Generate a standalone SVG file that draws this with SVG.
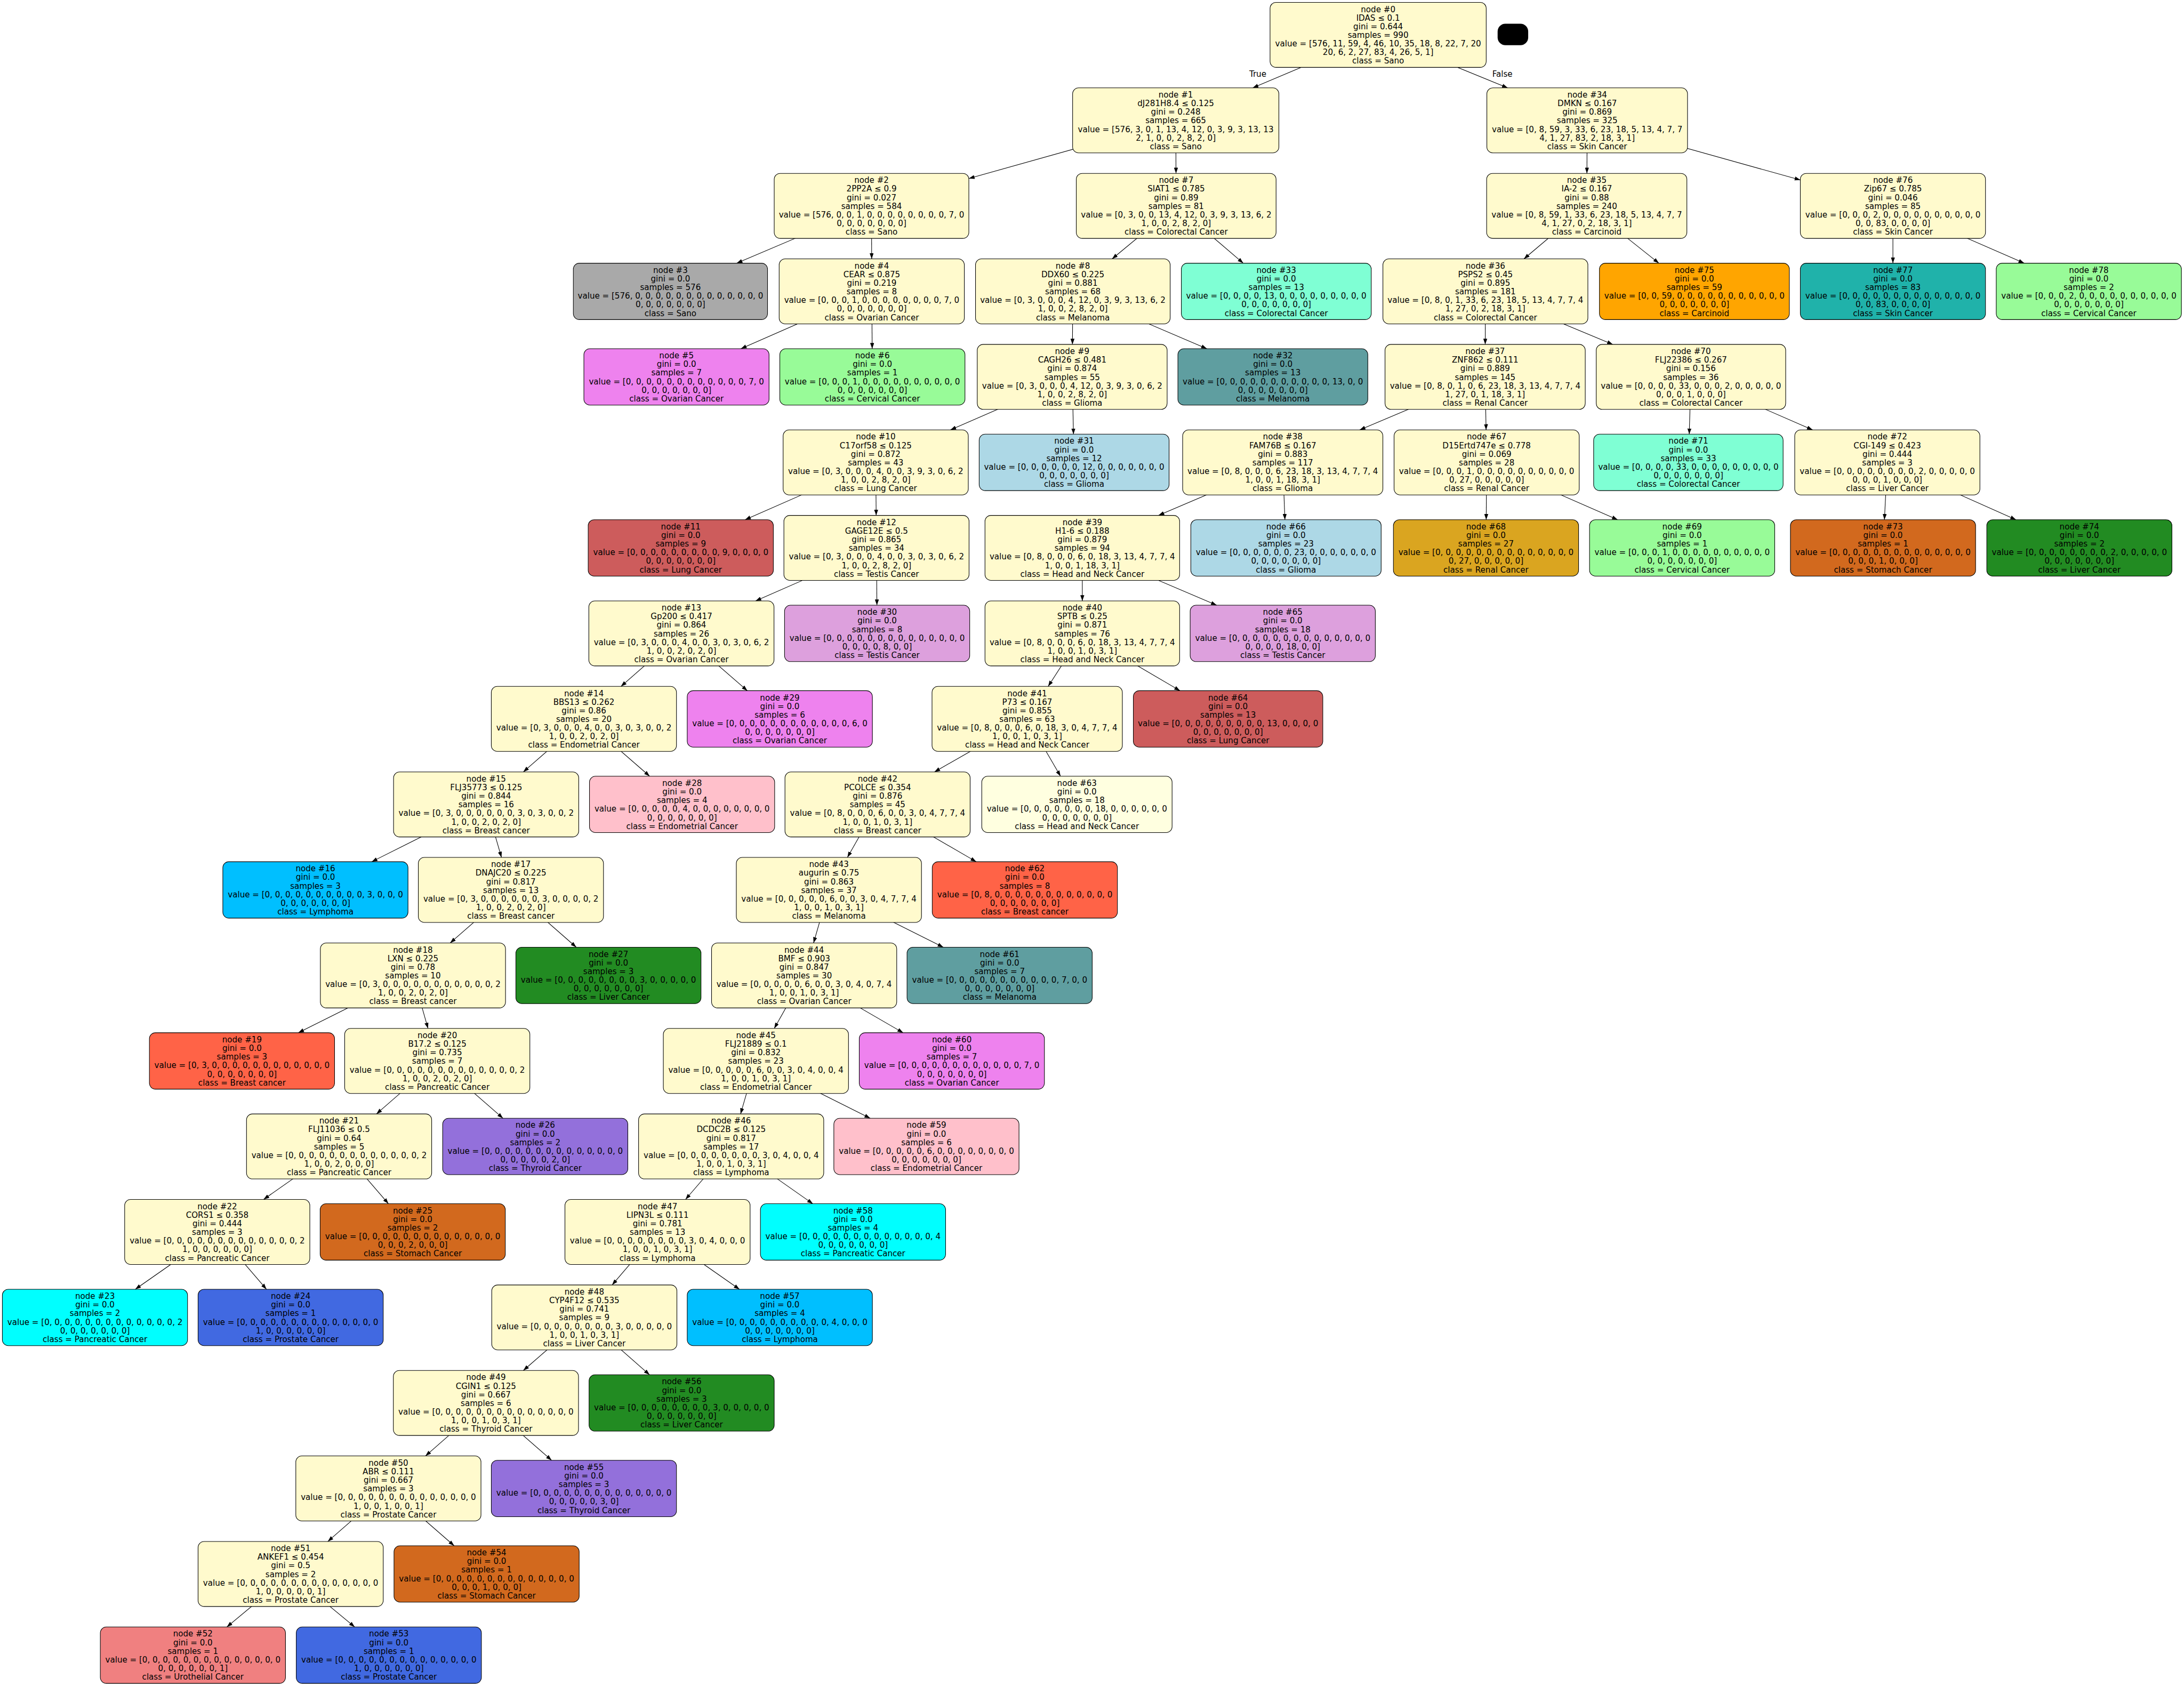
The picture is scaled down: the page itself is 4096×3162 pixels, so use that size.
<svg xmlns="http://www.w3.org/2000/svg" width="4096" height="3162" viewBox="0 0 4096 3162">
<defs>
<style>
.t{font-family:"DejaVu Sans","Liberation Sans",sans-serif;font-size:18.7px;text-anchor:middle;fill:#000}
.b{stroke:#000;stroke-width:1.33}
.e{stroke:#000;stroke-width:1.33;fill:none;marker-end:url(#arr)}
.i{fill:#fffacd}.sano{fill:#a9a9a9}.brea{fill:#ff6347}.carc{fill:#ffa500}.cerv{fill:#98fb98}.colo{fill:#7fffd4}.endo{fill:#ffc0cb}.glio{fill:#add8e6}.head{fill:#ffffe0}.live{fill:#228b22}.lung{fill:#cd5c5c}.lymp{fill:#00bfff}.mela{fill:#5f9ea0}.ovar{fill:#ee82ee}.panc{fill:#00ffff}.pros{fill:#4169e1}.rena{fill:#daa520}.skin{fill:#20b2aa}.stom{fill:#d2691e}.test{fill:#dda0dd}.thyr{fill:#9370db}.urot{fill:#f08080}
</style>
<marker id="arr" markerUnits="userSpaceOnUse" viewBox="0 0 10 7" refX="10" refY="3.5" markerWidth="13.3" markerHeight="9.3" orient="auto"><path d="M0,0 L10,3.5 L0,7 z" fill="#000"/></marker>
</defs>
<rect width="4096" height="3162" fill="#fff"/>
<g transform="scale(0.80757,0.80746)">
<g id="connectors">
<path class="e" d="M3200.5,81 L2909.2,204.1"/>
<path class="e" d="M3200.5,81 L3501.4,204.1"/>
<path class="e" d="M2730.5,279.6 L2250,414.7"/>
<path class="e" d="M2730.5,279.6 L2731.1,402.7"/>
<path class="e" d="M3686,279.6 L3685.4,402.7"/>
<path class="e" d="M3686,279.6 L4181,418.1"/>
<path class="e" d="M2024,478.2 L1711,611.3"/>
<path class="e" d="M2024,478.2 L2024.3,601.3"/>
<path class="e" d="M2731.5,478.2 L2582.7,601.3"/>
<path class="e" d="M2731.5,478.2 L2887.3,611.3"/>
<path class="e" d="M3685,478.2 L3539.1,601.3"/>
<path class="e" d="M3685,478.2 L3852.5,611.3"/>
<path class="e" d="M4396,478.2 L4396,611.3"/>
<path class="e" d="M4396,478.2 L4700.9,611.3"/>
<path class="e" d="M2024.5,676.8 L1720.6,809.9"/>
<path class="e" d="M2024.5,676.8 L2025.5,809.9"/>
<path class="e" d="M2491.5,676.8 L2490.6,799.9"/>
<path class="e" d="M2491.5,676.8 L2802.8,809.9"/>
<path class="e" d="M3449.6,676.8 L3449.2,799.9"/>
<path class="e" d="M3449.6,676.8 L3745.5,799.9"/>
<path class="e" d="M2490,875.4 L2207.2,998.5"/>
<path class="e" d="M2490,875.4 L2493,1008.5"/>
<path class="e" d="M3449,875.4 L3157.7,998.5"/>
<path class="e" d="M3449,875.4 L3451.2,998.5"/>
<path class="e" d="M3927,875.4 L3923,1008.5"/>
<path class="e" d="M3927,875.4 L4209.6,998.5"/>
<path class="e" d="M2033.7,1074 L1730.3,1207.1"/>
<path class="e" d="M2033.7,1074 L2034.8,1197.1"/>
<path class="e" d="M2979,1074 L2690.5,1197.1"/>
<path class="e" d="M2979,1074 L2984,1207.1"/>
<path class="e" d="M3452.5,1074 L3451.5,1207.1"/>
<path class="e" d="M3452.5,1074 L3756.8,1207.1"/>
<path class="e" d="M4383,1074 L4376.3,1207.1"/>
<path class="e" d="M4383,1074 L4681.9,1207.1"/>
<path class="e" d="M2035.5,1272.6 L1754.7,1395.7"/>
<path class="e" d="M2035.5,1272.6 L2036.5,1405.7"/>
<path class="e" d="M2513.5,1272.6 L2513.5,1395.7"/>
<path class="e" d="M2513.5,1272.6 L2825.5,1405.7"/>
<path class="e" d="M1582.5,1471.2 L1442.1,1594.3"/>
<path class="e" d="M1582.5,1471.2 L1735.6,1604.3"/>
<path class="e" d="M2513.5,1471.2 L2434.2,1594.3"/>
<path class="e" d="M2513.5,1471.2 L2740.4,1604.3"/>
<path class="e" d="M1356,1669.8 L1215.3,1792.9"/>
<path class="e" d="M1356,1669.8 L1508.8,1802.9"/>
<path class="e" d="M2385.5,1669.8 L2170.1,1792.9"/>
<path class="e" d="M2385.5,1669.8 L2462.9,1802.9"/>
<path class="e" d="M1129,1868.4 L863.3,2001.5"/>
<path class="e" d="M1129,1868.4 L1164.6,1991.5"/>
<path class="e" d="M2038,1868.4 L1968,1991.5"/>
<path class="e" d="M2038,1868.4 L2267.2,2001.5"/>
<path class="e" d="M1186.5,2067 L1045.5,2190.1"/>
<path class="e" d="M1186.5,2067 L1338.3,2200.1"/>
<path class="e" d="M1925,2067 L1889.4,2190.1"/>
<path class="e" d="M1925,2067 L2190.7,2200.1"/>
<path class="e" d="M959,2265.6 L692.9,2398.7"/>
<path class="e" d="M959,2265.6 L994,2388.7"/>
<path class="e" d="M1867.5,2265.6 L1798.1,2388.7"/>
<path class="e" d="M1867.5,2265.6 L2097.4,2398.7"/>
<path class="e" d="M1015.5,2464.2 L874.2,2587.3"/>
<path class="e" d="M1015.5,2464.2 L1168,2597.3"/>
<path class="e" d="M1755.5,2464.2 L1719.9,2587.3"/>
<path class="e" d="M1755.5,2464.2 L2020.9,2597.3"/>
<path class="e" d="M787.5,2662.8 L612.1,2785.9"/>
<path class="e" d="M787.5,2662.8 L902.1,2795.9"/>
<path class="e" d="M1698,2662.8 L1592,2785.9"/>
<path class="e" d="M1698,2662.8 L1887.7,2795.9"/>
<path class="e" d="M504.5,2861.4 L314.2,2994.5"/>
<path class="e" d="M504.5,2861.4 L618.8,2994.5"/>
<path class="e" d="M1527,2861.4 L1421.6,2984.5"/>
<path class="e" d="M1527,2861.4 L1717.3,2994.5"/>
<path class="e" d="M1357,3060 L1215.4,3183.1"/>
<path class="e" d="M1357,3060 L1508.5,3193.1"/>
<path class="e" d="M1128.5,3258.6 L988.1,3381.7"/>
<path class="e" d="M1128.5,3258.6 L1281,3391.7"/>
<path class="e" d="M902,3457.2 L761.3,3580.3"/>
<path class="e" d="M902,3457.2 L1054.8,3590.3"/>
<path class="e" d="M675,3655.8 L526.8,3778.9"/>
<path class="e" d="M675,3655.8 L823.8,3778.9"/>
<text class="t" x="2921" y="178.5">True</text>
<text class="t" x="3489" y="178.5">False</text>
</g>
<g id="blob"><rect x="3478" y="55" width="71" height="50" rx="18" fill="#000"/></g>
<g id="node-0" transform="translate(3200.5,81)"><rect class="b i" x="-251" y="-75.5" width="502" height="151" rx="14"/><text class="t" y="-53"><tspan x="0">node #0</tspan><tspan x="0" dy="20">IDAS ≤ 0.1</tspan><tspan x="0" dy="20">gini = 0.644</tspan><tspan x="0" dy="20">samples = 990</tspan><tspan x="0" dy="20">value = [576, 11, 59, 4, 46, 10, 35, 18, 8, 22, 7, 20</tspan><tspan x="0" dy="20">20, 6, 2, 27, 83, 4, 26, 5, 1]</tspan><tspan x="0" dy="20">class = Sano</tspan></text></g>
<g id="node-1" transform="translate(2730.5,279.6)"><rect class="b i" x="-239.5" y="-75.5" width="479" height="151" rx="14"/><text class="t" y="-53"><tspan x="0">node #1</tspan><tspan x="0" dy="20">dJ281H8.4 ≤ 0.125</tspan><tspan x="0" dy="20">gini = 0.248</tspan><tspan x="0" dy="20">samples = 665</tspan><tspan x="0" dy="20">value = [576, 3, 0, 1, 13, 4, 12, 0, 3, 9, 3, 13, 13</tspan><tspan x="0" dy="20">2, 1, 0, 0, 2, 8, 2, 0]</tspan><tspan x="0" dy="20">class = Sano</tspan></text></g>
<g id="node-2" transform="translate(2024,478.2)"><rect class="b i" x="-226" y="-75.5" width="452" height="151" rx="14"/><text class="t" y="-53"><tspan x="0">node #2</tspan><tspan x="0" dy="20">2PP2A ≤ 0.9</tspan><tspan x="0" dy="20">gini = 0.027</tspan><tspan x="0" dy="20">samples = 584</tspan><tspan x="0" dy="20">value = [576, 0, 0, 1, 0, 0, 0, 0, 0, 0, 0, 0, 7, 0</tspan><tspan x="0" dy="20">0, 0, 0, 0, 0, 0, 0]</tspan><tspan x="0" dy="20">class = Sano</tspan></text></g>
<g id="node-3" transform="translate(1557,676.8)"><rect class="b sano" x="-225.5" y="-65.5" width="451" height="131" rx="14"/><text class="t" y="-43"><tspan x="0">node #3</tspan><tspan x="0" dy="20">gini = 0.0</tspan><tspan x="0" dy="20">samples = 576</tspan><tspan x="0" dy="20">value = [576, 0, 0, 0, 0, 0, 0, 0, 0, 0, 0, 0, 0, 0</tspan><tspan x="0" dy="20">0, 0, 0, 0, 0, 0, 0]</tspan><tspan x="0" dy="20">class = Sano</tspan></text></g>
<g id="node-4" transform="translate(2024.5,676.8)"><rect class="b i" x="-215" y="-75.5" width="430" height="151" rx="14"/><text class="t" y="-53"><tspan x="0">node #4</tspan><tspan x="0" dy="20">CEAR ≤ 0.875</tspan><tspan x="0" dy="20">gini = 0.219</tspan><tspan x="0" dy="20">samples = 8</tspan><tspan x="0" dy="20">value = [0, 0, 0, 1, 0, 0, 0, 0, 0, 0, 0, 0, 7, 0</tspan><tspan x="0" dy="20">0, 0, 0, 0, 0, 0, 0]</tspan><tspan x="0" dy="20">class = Ovarian Cancer</tspan></text></g>
<g id="node-5" transform="translate(1571,875.4)"><rect class="b ovar" x="-215" y="-65.5" width="430" height="131" rx="14"/><text class="t" y="-43"><tspan x="0">node #5</tspan><tspan x="0" dy="20">gini = 0.0</tspan><tspan x="0" dy="20">samples = 7</tspan><tspan x="0" dy="20">value = [0, 0, 0, 0, 0, 0, 0, 0, 0, 0, 0, 0, 7, 0</tspan><tspan x="0" dy="20">0, 0, 0, 0, 0, 0, 0]</tspan><tspan x="0" dy="20">class = Ovarian Cancer</tspan></text></g>
<g id="node-6" transform="translate(2026,875.4)"><rect class="b cerv" x="-215" y="-65.5" width="430" height="131" rx="14"/><text class="t" y="-43"><tspan x="0">node #6</tspan><tspan x="0" dy="20">gini = 0.0</tspan><tspan x="0" dy="20">samples = 1</tspan><tspan x="0" dy="20">value = [0, 0, 0, 1, 0, 0, 0, 0, 0, 0, 0, 0, 0, 0</tspan><tspan x="0" dy="20">0, 0, 0, 0, 0, 0, 0]</tspan><tspan x="0" dy="20">class = Cervical Cancer</tspan></text></g>
<g id="node-7" transform="translate(2731.5,478.2)"><rect class="b i" x="-232" y="-75.5" width="464" height="151" rx="14"/><text class="t" y="-53"><tspan x="0">node #7</tspan><tspan x="0" dy="20">SIAT1 ≤ 0.785</tspan><tspan x="0" dy="20">gini = 0.89</tspan><tspan x="0" dy="20">samples = 81</tspan><tspan x="0" dy="20">value = [0, 3, 0, 0, 13, 4, 12, 0, 3, 9, 3, 13, 6, 2</tspan><tspan x="0" dy="20">1, 0, 0, 2, 8, 2, 0]</tspan><tspan x="0" dy="20">class = Colorectal Cancer</tspan></text></g>
<g id="node-8" transform="translate(2491.5,676.8)"><rect class="b i" x="-226" y="-75.5" width="452" height="151" rx="14"/><text class="t" y="-53"><tspan x="0">node #8</tspan><tspan x="0" dy="20">DDX60 ≤ 0.225</tspan><tspan x="0" dy="20">gini = 0.881</tspan><tspan x="0" dy="20">samples = 68</tspan><tspan x="0" dy="20">value = [0, 3, 0, 0, 0, 4, 12, 0, 3, 9, 3, 13, 6, 2</tspan><tspan x="0" dy="20">1, 0, 0, 2, 8, 2, 0]</tspan><tspan x="0" dy="20">class = Melanoma</tspan></text></g>
<g id="node-9" transform="translate(2490,875.4)"><rect class="b i" x="-220.5" y="-75.5" width="441" height="151" rx="14"/><text class="t" y="-53"><tspan x="0">node #9</tspan><tspan x="0" dy="20">CAGH26 ≤ 0.481</tspan><tspan x="0" dy="20">gini = 0.874</tspan><tspan x="0" dy="20">samples = 55</tspan><tspan x="0" dy="20">value = [0, 3, 0, 0, 0, 4, 12, 0, 3, 9, 3, 0, 6, 2</tspan><tspan x="0" dy="20">1, 0, 0, 2, 8, 2, 0]</tspan><tspan x="0" dy="20">class = Glioma</tspan></text></g>
<g id="node-10" transform="translate(2033.7,1074)"><rect class="b i" x="-215" y="-75.5" width="430" height="151" rx="14"/><text class="t" y="-53"><tspan x="0">node #10</tspan><tspan x="0" dy="20">C17orf58 ≤ 0.125</tspan><tspan x="0" dy="20">gini = 0.872</tspan><tspan x="0" dy="20">samples = 43</tspan><tspan x="0" dy="20">value = [0, 3, 0, 0, 0, 4, 0, 0, 3, 9, 3, 0, 6, 2</tspan><tspan x="0" dy="20">1, 0, 0, 2, 8, 2, 0]</tspan><tspan x="0" dy="20">class = Lung Cancer</tspan></text></g>
<g id="node-11" transform="translate(1581,1272.6)"><rect class="b lung" x="-215" y="-65.5" width="430" height="131" rx="14"/><text class="t" y="-43"><tspan x="0">node #11</tspan><tspan x="0" dy="20">gini = 0.0</tspan><tspan x="0" dy="20">samples = 9</tspan><tspan x="0" dy="20">value = [0, 0, 0, 0, 0, 0, 0, 0, 0, 9, 0, 0, 0, 0</tspan><tspan x="0" dy="20">0, 0, 0, 0, 0, 0, 0]</tspan><tspan x="0" dy="20">class = Lung Cancer</tspan></text></g>
<g id="node-12" transform="translate(2035.5,1272.6)"><rect class="b i" x="-215" y="-75.5" width="430" height="151" rx="14"/><text class="t" y="-53"><tspan x="0">node #12</tspan><tspan x="0" dy="20">GAGE12E ≤ 0.5</tspan><tspan x="0" dy="20">gini = 0.865</tspan><tspan x="0" dy="20">samples = 34</tspan><tspan x="0" dy="20">value = [0, 3, 0, 0, 0, 4, 0, 0, 3, 0, 3, 0, 6, 2</tspan><tspan x="0" dy="20">1, 0, 0, 2, 8, 2, 0]</tspan><tspan x="0" dy="20">class = Testis Cancer</tspan></text></g>
<g id="node-13" transform="translate(1582.5,1471.2)"><rect class="b i" x="-215" y="-75.5" width="430" height="151" rx="14"/><text class="t" y="-53"><tspan x="0">node #13</tspan><tspan x="0" dy="20">Gp200 ≤ 0.417</tspan><tspan x="0" dy="20">gini = 0.864</tspan><tspan x="0" dy="20">samples = 26</tspan><tspan x="0" dy="20">value = [0, 3, 0, 0, 0, 4, 0, 0, 3, 0, 3, 0, 6, 2</tspan><tspan x="0" dy="20">1, 0, 0, 2, 0, 2, 0]</tspan><tspan x="0" dy="20">class = Ovarian Cancer</tspan></text></g>
<g id="node-14" transform="translate(1356,1669.8)"><rect class="b i" x="-215" y="-75.5" width="430" height="151" rx="14"/><text class="t" y="-53"><tspan x="0">node #14</tspan><tspan x="0" dy="20">BBS13 ≤ 0.262</tspan><tspan x="0" dy="20">gini = 0.86</tspan><tspan x="0" dy="20">samples = 20</tspan><tspan x="0" dy="20">value = [0, 3, 0, 0, 0, 4, 0, 0, 3, 0, 3, 0, 0, 2</tspan><tspan x="0" dy="20">1, 0, 0, 2, 0, 2, 0]</tspan><tspan x="0" dy="20">class = Endometrial Cancer</tspan></text></g>
<g id="node-15" transform="translate(1129,1868.4)"><rect class="b i" x="-215" y="-75.5" width="430" height="151" rx="14"/><text class="t" y="-53"><tspan x="0">node #15</tspan><tspan x="0" dy="20">FLJ35773 ≤ 0.125</tspan><tspan x="0" dy="20">gini = 0.844</tspan><tspan x="0" dy="20">samples = 16</tspan><tspan x="0" dy="20">value = [0, 3, 0, 0, 0, 0, 0, 0, 3, 0, 3, 0, 0, 2</tspan><tspan x="0" dy="20">1, 0, 0, 2, 0, 2, 0]</tspan><tspan x="0" dy="20">class = Breast cancer</tspan></text></g>
<g id="node-16" transform="translate(732.5,2067)"><rect class="b lymp" x="-215" y="-65.5" width="430" height="131" rx="14"/><text class="t" y="-43"><tspan x="0">node #16</tspan><tspan x="0" dy="20">gini = 0.0</tspan><tspan x="0" dy="20">samples = 3</tspan><tspan x="0" dy="20">value = [0, 0, 0, 0, 0, 0, 0, 0, 0, 0, 3, 0, 0, 0</tspan><tspan x="0" dy="20">0, 0, 0, 0, 0, 0, 0]</tspan><tspan x="0" dy="20">class = Lymphoma</tspan></text></g>
<g id="node-17" transform="translate(1186.5,2067)"><rect class="b i" x="-215" y="-75.5" width="430" height="151" rx="14"/><text class="t" y="-53"><tspan x="0">node #17</tspan><tspan x="0" dy="20">DNAJC20 ≤ 0.225</tspan><tspan x="0" dy="20">gini = 0.817</tspan><tspan x="0" dy="20">samples = 13</tspan><tspan x="0" dy="20">value = [0, 3, 0, 0, 0, 0, 0, 0, 3, 0, 0, 0, 0, 2</tspan><tspan x="0" dy="20">1, 0, 0, 2, 0, 2, 0]</tspan><tspan x="0" dy="20">class = Breast cancer</tspan></text></g>
<g id="node-18" transform="translate(959,2265.6)"><rect class="b i" x="-215" y="-75.5" width="430" height="151" rx="14"/><text class="t" y="-53"><tspan x="0">node #18</tspan><tspan x="0" dy="20">LXN ≤ 0.225</tspan><tspan x="0" dy="20">gini = 0.78</tspan><tspan x="0" dy="20">samples = 10</tspan><tspan x="0" dy="20">value = [0, 3, 0, 0, 0, 0, 0, 0, 0, 0, 0, 0, 0, 2</tspan><tspan x="0" dy="20">1, 0, 0, 2, 0, 2, 0]</tspan><tspan x="0" dy="20">class = Breast cancer</tspan></text></g>
<g id="node-19" transform="translate(562,2464.2)"><rect class="b brea" x="-215" y="-65.5" width="430" height="131" rx="14"/><text class="t" y="-43"><tspan x="0">node #19</tspan><tspan x="0" dy="20">gini = 0.0</tspan><tspan x="0" dy="20">samples = 3</tspan><tspan x="0" dy="20">value = [0, 3, 0, 0, 0, 0, 0, 0, 0, 0, 0, 0, 0, 0</tspan><tspan x="0" dy="20">0, 0, 0, 0, 0, 0, 0]</tspan><tspan x="0" dy="20">class = Breast cancer</tspan></text></g>
<g id="node-20" transform="translate(1015.5,2464.2)"><rect class="b i" x="-215" y="-75.5" width="430" height="151" rx="14"/><text class="t" y="-53"><tspan x="0">node #20</tspan><tspan x="0" dy="20">B17.2 ≤ 0.125</tspan><tspan x="0" dy="20">gini = 0.735</tspan><tspan x="0" dy="20">samples = 7</tspan><tspan x="0" dy="20">value = [0, 0, 0, 0, 0, 0, 0, 0, 0, 0, 0, 0, 0, 2</tspan><tspan x="0" dy="20">1, 0, 0, 2, 0, 2, 0]</tspan><tspan x="0" dy="20">class = Pancreatic Cancer</tspan></text></g>
<g id="node-21" transform="translate(787.5,2662.8)"><rect class="b i" x="-215" y="-75.5" width="430" height="151" rx="14"/><text class="t" y="-53"><tspan x="0">node #21</tspan><tspan x="0" dy="20">FLJ11036 ≤ 0.5</tspan><tspan x="0" dy="20">gini = 0.64</tspan><tspan x="0" dy="20">samples = 5</tspan><tspan x="0" dy="20">value = [0, 0, 0, 0, 0, 0, 0, 0, 0, 0, 0, 0, 0, 2</tspan><tspan x="0" dy="20">1, 0, 0, 2, 0, 0, 0]</tspan><tspan x="0" dy="20">class = Pancreatic Cancer</tspan></text></g>
<g id="node-22" transform="translate(504.5,2861.4)"><rect class="b i" x="-215" y="-75.5" width="430" height="151" rx="14"/><text class="t" y="-53"><tspan x="0">node #22</tspan><tspan x="0" dy="20">CORS1 ≤ 0.358</tspan><tspan x="0" dy="20">gini = 0.444</tspan><tspan x="0" dy="20">samples = 3</tspan><tspan x="0" dy="20">value = [0, 0, 0, 0, 0, 0, 0, 0, 0, 0, 0, 0, 0, 2</tspan><tspan x="0" dy="20">1, 0, 0, 0, 0, 0, 0]</tspan><tspan x="0" dy="20">class = Pancreatic Cancer</tspan></text></g>
<g id="node-23" transform="translate(220.5,3060)"><rect class="b panc" x="-215" y="-65.5" width="430" height="131" rx="14"/><text class="t" y="-43"><tspan x="0">node #23</tspan><tspan x="0" dy="20">gini = 0.0</tspan><tspan x="0" dy="20">samples = 2</tspan><tspan x="0" dy="20">value = [0, 0, 0, 0, 0, 0, 0, 0, 0, 0, 0, 0, 0, 2</tspan><tspan x="0" dy="20">0, 0, 0, 0, 0, 0, 0]</tspan><tspan x="0" dy="20">class = Pancreatic Cancer</tspan></text></g>
<g id="node-24" transform="translate(675,3060)"><rect class="b pros" x="-215" y="-65.5" width="430" height="131" rx="14"/><text class="t" y="-43"><tspan x="0">node #24</tspan><tspan x="0" dy="20">gini = 0.0</tspan><tspan x="0" dy="20">samples = 1</tspan><tspan x="0" dy="20">value = [0, 0, 0, 0, 0, 0, 0, 0, 0, 0, 0, 0, 0, 0</tspan><tspan x="0" dy="20">1, 0, 0, 0, 0, 0, 0]</tspan><tspan x="0" dy="20">class = Prostate Cancer</tspan></text></g>
<g id="node-25" transform="translate(958.5,2861.4)"><rect class="b stom" x="-215" y="-65.5" width="430" height="131" rx="14"/><text class="t" y="-43"><tspan x="0">node #25</tspan><tspan x="0" dy="20">gini = 0.0</tspan><tspan x="0" dy="20">samples = 2</tspan><tspan x="0" dy="20">value = [0, 0, 0, 0, 0, 0, 0, 0, 0, 0, 0, 0, 0, 0</tspan><tspan x="0" dy="20">0, 0, 0, 2, 0, 0, 0]</tspan><tspan x="0" dy="20">class = Stomach Cancer</tspan></text></g>
<g id="node-26" transform="translate(1243,2662.8)"><rect class="b thyr" x="-215" y="-65.5" width="430" height="131" rx="14"/><text class="t" y="-43"><tspan x="0">node #26</tspan><tspan x="0" dy="20">gini = 0.0</tspan><tspan x="0" dy="20">samples = 2</tspan><tspan x="0" dy="20">value = [0, 0, 0, 0, 0, 0, 0, 0, 0, 0, 0, 0, 0, 0</tspan><tspan x="0" dy="20">0, 0, 0, 0, 0, 2, 0]</tspan><tspan x="0" dy="20">class = Thyroid Cancer</tspan></text></g>
<g id="node-27" transform="translate(1413,2265.6)"><rect class="b live" x="-215" y="-65.5" width="430" height="131" rx="14"/><text class="t" y="-43"><tspan x="0">node #27</tspan><tspan x="0" dy="20">gini = 0.0</tspan><tspan x="0" dy="20">samples = 3</tspan><tspan x="0" dy="20">value = [0, 0, 0, 0, 0, 0, 0, 0, 3, 0, 0, 0, 0, 0</tspan><tspan x="0" dy="20">0, 0, 0, 0, 0, 0, 0]</tspan><tspan x="0" dy="20">class = Liver Cancer</tspan></text></g>
<g id="node-28" transform="translate(1584,1868.4)"><rect class="b endo" x="-215" y="-65.5" width="430" height="131" rx="14"/><text class="t" y="-43"><tspan x="0">node #28</tspan><tspan x="0" dy="20">gini = 0.0</tspan><tspan x="0" dy="20">samples = 4</tspan><tspan x="0" dy="20">value = [0, 0, 0, 0, 0, 4, 0, 0, 0, 0, 0, 0, 0, 0</tspan><tspan x="0" dy="20">0, 0, 0, 0, 0, 0, 0]</tspan><tspan x="0" dy="20">class = Endometrial Cancer</tspan></text></g>
<g id="node-29" transform="translate(1811,1669.8)"><rect class="b ovar" x="-215" y="-65.5" width="430" height="131" rx="14"/><text class="t" y="-43"><tspan x="0">node #29</tspan><tspan x="0" dy="20">gini = 0.0</tspan><tspan x="0" dy="20">samples = 6</tspan><tspan x="0" dy="20">value = [0, 0, 0, 0, 0, 0, 0, 0, 0, 0, 0, 0, 6, 0</tspan><tspan x="0" dy="20">0, 0, 0, 0, 0, 0, 0]</tspan><tspan x="0" dy="20">class = Ovarian Cancer</tspan></text></g>
<g id="node-30" transform="translate(2037,1471.2)"><rect class="b test" x="-215" y="-65.5" width="430" height="131" rx="14"/><text class="t" y="-43"><tspan x="0">node #30</tspan><tspan x="0" dy="20">gini = 0.0</tspan><tspan x="0" dy="20">samples = 8</tspan><tspan x="0" dy="20">value = [0, 0, 0, 0, 0, 0, 0, 0, 0, 0, 0, 0, 0, 0</tspan><tspan x="0" dy="20">0, 0, 0, 0, 8, 0, 0]</tspan><tspan x="0" dy="20">class = Testis Cancer</tspan></text></g>
<g id="node-31" transform="translate(2494.5,1074)"><rect class="b glio" x="-220.5" y="-65.5" width="441" height="131" rx="14"/><text class="t" y="-43"><tspan x="0">node #31</tspan><tspan x="0" dy="20">gini = 0.0</tspan><tspan x="0" dy="20">samples = 12</tspan><tspan x="0" dy="20">value = [0, 0, 0, 0, 0, 0, 12, 0, 0, 0, 0, 0, 0, 0</tspan><tspan x="0" dy="20">0, 0, 0, 0, 0, 0, 0]</tspan><tspan x="0" dy="20">class = Glioma</tspan></text></g>
<g id="node-32" transform="translate(2956,875.4)"><rect class="b mela" x="-220.5" y="-65.5" width="441" height="131" rx="14"/><text class="t" y="-43"><tspan x="0">node #32</tspan><tspan x="0" dy="20">gini = 0.0</tspan><tspan x="0" dy="20">samples = 13</tspan><tspan x="0" dy="20">value = [0, 0, 0, 0, 0, 0, 0, 0, 0, 0, 0, 13, 0, 0</tspan><tspan x="0" dy="20">0, 0, 0, 0, 0, 0, 0]</tspan><tspan x="0" dy="20">class = Melanoma</tspan></text></g>
<g id="node-33" transform="translate(2964,676.8)"><rect class="b colo" x="-220.5" y="-65.5" width="441" height="131" rx="14"/><text class="t" y="-43"><tspan x="0">node #33</tspan><tspan x="0" dy="20">gini = 0.0</tspan><tspan x="0" dy="20">samples = 13</tspan><tspan x="0" dy="20">value = [0, 0, 0, 0, 13, 0, 0, 0, 0, 0, 0, 0, 0, 0</tspan><tspan x="0" dy="20">0, 0, 0, 0, 0, 0, 0]</tspan><tspan x="0" dy="20">class = Colorectal Cancer</tspan></text></g>
<g id="node-34" transform="translate(3686,279.6)"><rect class="b i" x="-233" y="-75.5" width="466" height="151" rx="14"/><text class="t" y="-53"><tspan x="0">node #34</tspan><tspan x="0" dy="20">DMKN ≤ 0.167</tspan><tspan x="0" dy="20">gini = 0.869</tspan><tspan x="0" dy="20">samples = 325</tspan><tspan x="0" dy="20">value = [0, 8, 59, 3, 33, 6, 23, 18, 5, 13, 4, 7, 7</tspan><tspan x="0" dy="20">4, 1, 27, 83, 2, 18, 3, 1]</tspan><tspan x="0" dy="20">class = Skin Cancer</tspan></text></g>
<g id="node-35" transform="translate(3685,478.2)"><rect class="b i" x="-232.5" y="-75.5" width="465" height="151" rx="14"/><text class="t" y="-53"><tspan x="0">node #35</tspan><tspan x="0" dy="20">IA-2 ≤ 0.167</tspan><tspan x="0" dy="20">gini = 0.88</tspan><tspan x="0" dy="20">samples = 240</tspan><tspan x="0" dy="20">value = [0, 8, 59, 1, 33, 6, 23, 18, 5, 13, 4, 7, 7</tspan><tspan x="0" dy="20">4, 1, 27, 0, 2, 18, 3, 1]</tspan><tspan x="0" dy="20">class = Carcinoid</tspan></text></g>
<g id="node-36" transform="translate(3449.6,676.8)"><rect class="b i" x="-238" y="-75.5" width="476" height="151" rx="14"/><text class="t" y="-53"><tspan x="0">node #36</tspan><tspan x="0" dy="20">PSPS2 ≤ 0.45</tspan><tspan x="0" dy="20">gini = 0.895</tspan><tspan x="0" dy="20">samples = 181</tspan><tspan x="0" dy="20">value = [0, 8, 0, 1, 33, 6, 23, 18, 5, 13, 4, 7, 7, 4</tspan><tspan x="0" dy="20">1, 27, 0, 2, 18, 3, 1]</tspan><tspan x="0" dy="20">class = Colorectal Cancer</tspan></text></g>
<g id="node-37" transform="translate(3449,875.4)"><rect class="b i" x="-232.5" y="-75.5" width="465" height="151" rx="14"/><text class="t" y="-53"><tspan x="0">node #37</tspan><tspan x="0" dy="20">ZNF862 ≤ 0.111</tspan><tspan x="0" dy="20">gini = 0.889</tspan><tspan x="0" dy="20">samples = 145</tspan><tspan x="0" dy="20">value = [0, 8, 0, 1, 0, 6, 23, 18, 3, 13, 4, 7, 7, 4</tspan><tspan x="0" dy="20">1, 27, 0, 1, 18, 3, 1]</tspan><tspan x="0" dy="20">class = Renal Cancer</tspan></text></g>
<g id="node-38" transform="translate(2979,1074)"><rect class="b i" x="-232.5" y="-75.5" width="465" height="151" rx="14"/><text class="t" y="-53"><tspan x="0">node #38</tspan><tspan x="0" dy="20">FAM76B ≤ 0.167</tspan><tspan x="0" dy="20">gini = 0.883</tspan><tspan x="0" dy="20">samples = 117</tspan><tspan x="0" dy="20">value = [0, 8, 0, 0, 0, 6, 23, 18, 3, 13, 4, 7, 7, 4</tspan><tspan x="0" dy="20">1, 0, 0, 1, 18, 3, 1]</tspan><tspan x="0" dy="20">class = Glioma</tspan></text></g>
<g id="node-39" transform="translate(2513.5,1272.6)"><rect class="b i" x="-226" y="-75.5" width="452" height="151" rx="14"/><text class="t" y="-53"><tspan x="0">node #39</tspan><tspan x="0" dy="20">H1-6 ≤ 0.188</tspan><tspan x="0" dy="20">gini = 0.879</tspan><tspan x="0" dy="20">samples = 94</tspan><tspan x="0" dy="20">value = [0, 8, 0, 0, 0, 6, 0, 18, 3, 13, 4, 7, 7, 4</tspan><tspan x="0" dy="20">1, 0, 0, 1, 18, 3, 1]</tspan><tspan x="0" dy="20">class = Head and Neck Cancer</tspan></text></g>
<g id="node-40" transform="translate(2513.5,1471.2)"><rect class="b i" x="-226" y="-75.5" width="452" height="151" rx="14"/><text class="t" y="-53"><tspan x="0">node #40</tspan><tspan x="0" dy="20">SPTB ≤ 0.25</tspan><tspan x="0" dy="20">gini = 0.871</tspan><tspan x="0" dy="20">samples = 76</tspan><tspan x="0" dy="20">value = [0, 8, 0, 0, 0, 6, 0, 18, 3, 13, 4, 7, 7, 4</tspan><tspan x="0" dy="20">1, 0, 0, 1, 0, 3, 1]</tspan><tspan x="0" dy="20">class = Head and Neck Cancer</tspan></text></g>
<g id="node-41" transform="translate(2385.5,1669.8)"><rect class="b i" x="-221" y="-75.5" width="442" height="151" rx="14"/><text class="t" y="-53"><tspan x="0">node #41</tspan><tspan x="0" dy="20">P73 ≤ 0.167</tspan><tspan x="0" dy="20">gini = 0.855</tspan><tspan x="0" dy="20">samples = 63</tspan><tspan x="0" dy="20">value = [0, 8, 0, 0, 0, 6, 0, 18, 3, 0, 4, 7, 7, 4</tspan><tspan x="0" dy="20">1, 0, 0, 1, 0, 3, 1]</tspan><tspan x="0" dy="20">class = Head and Neck Cancer</tspan></text></g>
<g id="node-42" transform="translate(2038,1868.4)"><rect class="b i" x="-215" y="-75.5" width="430" height="151" rx="14"/><text class="t" y="-53"><tspan x="0">node #42</tspan><tspan x="0" dy="20">PCOLCE ≤ 0.354</tspan><tspan x="0" dy="20">gini = 0.876</tspan><tspan x="0" dy="20">samples = 45</tspan><tspan x="0" dy="20">value = [0, 8, 0, 0, 0, 6, 0, 0, 3, 0, 4, 7, 7, 4</tspan><tspan x="0" dy="20">1, 0, 0, 1, 0, 3, 1]</tspan><tspan x="0" dy="20">class = Breast cancer</tspan></text></g>
<g id="node-43" transform="translate(1925,2067)"><rect class="b i" x="-215" y="-75.5" width="430" height="151" rx="14"/><text class="t" y="-53"><tspan x="0">node #43</tspan><tspan x="0" dy="20">augurin ≤ 0.75</tspan><tspan x="0" dy="20">gini = 0.863</tspan><tspan x="0" dy="20">samples = 37</tspan><tspan x="0" dy="20">value = [0, 0, 0, 0, 0, 6, 0, 0, 3, 0, 4, 7, 7, 4</tspan><tspan x="0" dy="20">1, 0, 0, 1, 0, 3, 1]</tspan><tspan x="0" dy="20">class = Melanoma</tspan></text></g>
<g id="node-44" transform="translate(1867.5,2265.6)"><rect class="b i" x="-215" y="-75.5" width="430" height="151" rx="14"/><text class="t" y="-53"><tspan x="0">node #44</tspan><tspan x="0" dy="20">BMF ≤ 0.903</tspan><tspan x="0" dy="20">gini = 0.847</tspan><tspan x="0" dy="20">samples = 30</tspan><tspan x="0" dy="20">value = [0, 0, 0, 0, 0, 6, 0, 0, 3, 0, 4, 0, 7, 4</tspan><tspan x="0" dy="20">1, 0, 0, 1, 0, 3, 1]</tspan><tspan x="0" dy="20">class = Ovarian Cancer</tspan></text></g>
<g id="node-45" transform="translate(1755.5,2464.2)"><rect class="b i" x="-215" y="-75.5" width="430" height="151" rx="14"/><text class="t" y="-53"><tspan x="0">node #45</tspan><tspan x="0" dy="20">FLJ21889 ≤ 0.1</tspan><tspan x="0" dy="20">gini = 0.832</tspan><tspan x="0" dy="20">samples = 23</tspan><tspan x="0" dy="20">value = [0, 0, 0, 0, 0, 6, 0, 0, 3, 0, 4, 0, 0, 4</tspan><tspan x="0" dy="20">1, 0, 0, 1, 0, 3, 1]</tspan><tspan x="0" dy="20">class = Endometrial Cancer</tspan></text></g>
<g id="node-46" transform="translate(1698,2662.8)"><rect class="b i" x="-215" y="-75.5" width="430" height="151" rx="14"/><text class="t" y="-53"><tspan x="0">node #46</tspan><tspan x="0" dy="20">DCDC2B ≤ 0.125</tspan><tspan x="0" dy="20">gini = 0.817</tspan><tspan x="0" dy="20">samples = 17</tspan><tspan x="0" dy="20">value = [0, 0, 0, 0, 0, 0, 0, 0, 3, 0, 4, 0, 0, 4</tspan><tspan x="0" dy="20">1, 0, 0, 1, 0, 3, 1]</tspan><tspan x="0" dy="20">class = Lymphoma</tspan></text></g>
<g id="node-47" transform="translate(1527,2861.4)"><rect class="b i" x="-215" y="-75.5" width="430" height="151" rx="14"/><text class="t" y="-53"><tspan x="0">node #47</tspan><tspan x="0" dy="20">LIPN3L ≤ 0.111</tspan><tspan x="0" dy="20">gini = 0.781</tspan><tspan x="0" dy="20">samples = 13</tspan><tspan x="0" dy="20">value = [0, 0, 0, 0, 0, 0, 0, 0, 3, 0, 4, 0, 0, 0</tspan><tspan x="0" dy="20">1, 0, 0, 1, 0, 3, 1]</tspan><tspan x="0" dy="20">class = Lymphoma</tspan></text></g>
<g id="node-48" transform="translate(1357,3060)"><rect class="b i" x="-215" y="-75.5" width="430" height="151" rx="14"/><text class="t" y="-53"><tspan x="0">node #48</tspan><tspan x="0" dy="20">CYP4F12 ≤ 0.535</tspan><tspan x="0" dy="20">gini = 0.741</tspan><tspan x="0" dy="20">samples = 9</tspan><tspan x="0" dy="20">value = [0, 0, 0, 0, 0, 0, 0, 0, 3, 0, 0, 0, 0, 0</tspan><tspan x="0" dy="20">1, 0, 0, 1, 0, 3, 1]</tspan><tspan x="0" dy="20">class = Liver Cancer</tspan></text></g>
<g id="node-49" transform="translate(1128.5,3258.6)"><rect class="b i" x="-215" y="-75.5" width="430" height="151" rx="14"/><text class="t" y="-53"><tspan x="0">node #49</tspan><tspan x="0" dy="20">CGIN1 ≤ 0.125</tspan><tspan x="0" dy="20">gini = 0.667</tspan><tspan x="0" dy="20">samples = 6</tspan><tspan x="0" dy="20">value = [0, 0, 0, 0, 0, 0, 0, 0, 0, 0, 0, 0, 0, 0</tspan><tspan x="0" dy="20">1, 0, 0, 1, 0, 3, 1]</tspan><tspan x="0" dy="20">class = Thyroid Cancer</tspan></text></g>
<g id="node-50" transform="translate(902,3457.2)"><rect class="b i" x="-215" y="-75.5" width="430" height="151" rx="14"/><text class="t" y="-53"><tspan x="0">node #50</tspan><tspan x="0" dy="20">ABR ≤ 0.111</tspan><tspan x="0" dy="20">gini = 0.667</tspan><tspan x="0" dy="20">samples = 3</tspan><tspan x="0" dy="20">value = [0, 0, 0, 0, 0, 0, 0, 0, 0, 0, 0, 0, 0, 0</tspan><tspan x="0" dy="20">1, 0, 0, 1, 0, 0, 1]</tspan><tspan x="0" dy="20">class = Prostate Cancer</tspan></text></g>
<g id="node-51" transform="translate(675,3655.8)"><rect class="b i" x="-215" y="-75.5" width="430" height="151" rx="14"/><text class="t" y="-53"><tspan x="0">node #51</tspan><tspan x="0" dy="20">ANKEF1 ≤ 0.454</tspan><tspan x="0" dy="20">gini = 0.5</tspan><tspan x="0" dy="20">samples = 2</tspan><tspan x="0" dy="20">value = [0, 0, 0, 0, 0, 0, 0, 0, 0, 0, 0, 0, 0, 0</tspan><tspan x="0" dy="20">1, 0, 0, 0, 0, 0, 1]</tspan><tspan x="0" dy="20">class = Prostate Cancer</tspan></text></g>
<g id="node-52" transform="translate(448,3844.4)"><rect class="b urot" x="-215" y="-65.5" width="430" height="131" rx="14"/><text class="t" y="-43"><tspan x="0">node #52</tspan><tspan x="0" dy="20">gini = 0.0</tspan><tspan x="0" dy="20">samples = 1</tspan><tspan x="0" dy="20">value = [0, 0, 0, 0, 0, 0, 0, 0, 0, 0, 0, 0, 0, 0</tspan><tspan x="0" dy="20">0, 0, 0, 0, 0, 0, 1]</tspan><tspan x="0" dy="20">class = Urothelial Cancer</tspan></text></g>
<g id="node-53" transform="translate(903,3844.4)"><rect class="b pros" x="-215" y="-65.5" width="430" height="131" rx="14"/><text class="t" y="-43"><tspan x="0">node #53</tspan><tspan x="0" dy="20">gini = 0.0</tspan><tspan x="0" dy="20">samples = 1</tspan><tspan x="0" dy="20">value = [0, 0, 0, 0, 0, 0, 0, 0, 0, 0, 0, 0, 0, 0</tspan><tspan x="0" dy="20">1, 0, 0, 0, 0, 0, 0]</tspan><tspan x="0" dy="20">class = Prostate Cancer</tspan></text></g>
<g id="node-54" transform="translate(1130,3655.8)"><rect class="b stom" x="-215" y="-65.5" width="430" height="131" rx="14"/><text class="t" y="-43"><tspan x="0">node #54</tspan><tspan x="0" dy="20">gini = 0.0</tspan><tspan x="0" dy="20">samples = 1</tspan><tspan x="0" dy="20">value = [0, 0, 0, 0, 0, 0, 0, 0, 0, 0, 0, 0, 0, 0</tspan><tspan x="0" dy="20">0, 0, 0, 1, 0, 0, 0]</tspan><tspan x="0" dy="20">class = Stomach Cancer</tspan></text></g>
<g id="node-55" transform="translate(1356,3457.2)"><rect class="b thyr" x="-215" y="-65.5" width="430" height="131" rx="14"/><text class="t" y="-43"><tspan x="0">node #55</tspan><tspan x="0" dy="20">gini = 0.0</tspan><tspan x="0" dy="20">samples = 3</tspan><tspan x="0" dy="20">value = [0, 0, 0, 0, 0, 0, 0, 0, 0, 0, 0, 0, 0, 0</tspan><tspan x="0" dy="20">0, 0, 0, 0, 0, 3, 0]</tspan><tspan x="0" dy="20">class = Thyroid Cancer</tspan></text></g>
<g id="node-56" transform="translate(1583,3258.6)"><rect class="b live" x="-215" y="-65.5" width="430" height="131" rx="14"/><text class="t" y="-43"><tspan x="0">node #56</tspan><tspan x="0" dy="20">gini = 0.0</tspan><tspan x="0" dy="20">samples = 3</tspan><tspan x="0" dy="20">value = [0, 0, 0, 0, 0, 0, 0, 0, 3, 0, 0, 0, 0, 0</tspan><tspan x="0" dy="20">0, 0, 0, 0, 0, 0, 0]</tspan><tspan x="0" dy="20">class = Liver Cancer</tspan></text></g>
<g id="node-57" transform="translate(1811,3060)"><rect class="b lymp" x="-215" y="-65.5" width="430" height="131" rx="14"/><text class="t" y="-43"><tspan x="0">node #57</tspan><tspan x="0" dy="20">gini = 0.0</tspan><tspan x="0" dy="20">samples = 4</tspan><tspan x="0" dy="20">value = [0, 0, 0, 0, 0, 0, 0, 0, 0, 0, 4, 0, 0, 0</tspan><tspan x="0" dy="20">0, 0, 0, 0, 0, 0, 0]</tspan><tspan x="0" dy="20">class = Lymphoma</tspan></text></g>
<g id="node-58" transform="translate(1981,2861.4)"><rect class="b panc" x="-215" y="-65.5" width="430" height="131" rx="14"/><text class="t" y="-43"><tspan x="0">node #58</tspan><tspan x="0" dy="20">gini = 0.0</tspan><tspan x="0" dy="20">samples = 4</tspan><tspan x="0" dy="20">value = [0, 0, 0, 0, 0, 0, 0, 0, 0, 0, 0, 0, 0, 4</tspan><tspan x="0" dy="20">0, 0, 0, 0, 0, 0, 0]</tspan><tspan x="0" dy="20">class = Pancreatic Cancer</tspan></text></g>
<g id="node-59" transform="translate(2151.5,2662.8)"><rect class="b endo" x="-215" y="-65.5" width="430" height="131" rx="14"/><text class="t" y="-43"><tspan x="0">node #59</tspan><tspan x="0" dy="20">gini = 0.0</tspan><tspan x="0" dy="20">samples = 6</tspan><tspan x="0" dy="20">value = [0, 0, 0, 0, 0, 6, 0, 0, 0, 0, 0, 0, 0, 0</tspan><tspan x="0" dy="20">0, 0, 0, 0, 0, 0, 0]</tspan><tspan x="0" dy="20">class = Endometrial Cancer</tspan></text></g>
<g id="node-60" transform="translate(2210.5,2464.2)"><rect class="b ovar" x="-215" y="-65.5" width="430" height="131" rx="14"/><text class="t" y="-43"><tspan x="0">node #60</tspan><tspan x="0" dy="20">gini = 0.0</tspan><tspan x="0" dy="20">samples = 7</tspan><tspan x="0" dy="20">value = [0, 0, 0, 0, 0, 0, 0, 0, 0, 0, 0, 0, 7, 0</tspan><tspan x="0" dy="20">0, 0, 0, 0, 0, 0, 0]</tspan><tspan x="0" dy="20">class = Ovarian Cancer</tspan></text></g>
<g id="node-61" transform="translate(2321.5,2265.6)"><rect class="b mela" x="-215" y="-65.5" width="430" height="131" rx="14"/><text class="t" y="-43"><tspan x="0">node #61</tspan><tspan x="0" dy="20">gini = 0.0</tspan><tspan x="0" dy="20">samples = 7</tspan><tspan x="0" dy="20">value = [0, 0, 0, 0, 0, 0, 0, 0, 0, 0, 0, 7, 0, 0</tspan><tspan x="0" dy="20">0, 0, 0, 0, 0, 0, 0]</tspan><tspan x="0" dy="20">class = Melanoma</tspan></text></g>
<g id="node-62" transform="translate(2380,2067)"><rect class="b brea" x="-215" y="-65.5" width="430" height="131" rx="14"/><text class="t" y="-43"><tspan x="0">node #62</tspan><tspan x="0" dy="20">gini = 0.0</tspan><tspan x="0" dy="20">samples = 8</tspan><tspan x="0" dy="20">value = [0, 8, 0, 0, 0, 0, 0, 0, 0, 0, 0, 0, 0, 0</tspan><tspan x="0" dy="20">0, 0, 0, 0, 0, 0, 0]</tspan><tspan x="0" dy="20">class = Breast cancer</tspan></text></g>
<g id="node-63" transform="translate(2501,1868.4)"><rect class="b head" x="-221" y="-65.5" width="442" height="131" rx="14"/><text class="t" y="-43"><tspan x="0">node #63</tspan><tspan x="0" dy="20">gini = 0.0</tspan><tspan x="0" dy="20">samples = 18</tspan><tspan x="0" dy="20">value = [0, 0, 0, 0, 0, 0, 0, 18, 0, 0, 0, 0, 0, 0</tspan><tspan x="0" dy="20">0, 0, 0, 0, 0, 0, 0]</tspan><tspan x="0" dy="20">class = Head and Neck Cancer</tspan></text></g>
<g id="node-64" transform="translate(2852,1669.8)"><rect class="b lung" x="-220" y="-65.5" width="440" height="131" rx="14"/><text class="t" y="-43"><tspan x="0">node #64</tspan><tspan x="0" dy="20">gini = 0.0</tspan><tspan x="0" dy="20">samples = 13</tspan><tspan x="0" dy="20">value = [0, 0, 0, 0, 0, 0, 0, 0, 0, 13, 0, 0, 0, 0</tspan><tspan x="0" dy="20">0, 0, 0, 0, 0, 0, 0]</tspan><tspan x="0" dy="20">class = Lung Cancer</tspan></text></g>
<g id="node-65" transform="translate(2979,1471.2)"><rect class="b test" x="-215" y="-65.5" width="430" height="131" rx="14"/><text class="t" y="-43"><tspan x="0">node #65</tspan><tspan x="0" dy="20">gini = 0.0</tspan><tspan x="0" dy="20">samples = 18</tspan><tspan x="0" dy="20">value = [0, 0, 0, 0, 0, 0, 0, 0, 0, 0, 0, 0, 0, 0</tspan><tspan x="0" dy="20">0, 0, 0, 0, 18, 0, 0]</tspan><tspan x="0" dy="20">class = Testis Cancer</tspan></text></g>
<g id="node-66" transform="translate(2986.5,1272.6)"><rect class="b glio" x="-221" y="-65.5" width="442" height="131" rx="14"/><text class="t" y="-43"><tspan x="0">node #66</tspan><tspan x="0" dy="20">gini = 0.0</tspan><tspan x="0" dy="20">samples = 23</tspan><tspan x="0" dy="20">value = [0, 0, 0, 0, 0, 0, 23, 0, 0, 0, 0, 0, 0, 0</tspan><tspan x="0" dy="20">0, 0, 0, 0, 0, 0, 0]</tspan><tspan x="0" dy="20">class = Glioma</tspan></text></g>
<g id="node-67" transform="translate(3452.5,1074)"><rect class="b i" x="-215" y="-75.5" width="430" height="151" rx="14"/><text class="t" y="-53"><tspan x="0">node #67</tspan><tspan x="0" dy="20">D15Ertd747e ≤ 0.778</tspan><tspan x="0" dy="20">gini = 0.069</tspan><tspan x="0" dy="20">samples = 28</tspan><tspan x="0" dy="20">value = [0, 0, 0, 1, 0, 0, 0, 0, 0, 0, 0, 0, 0, 0</tspan><tspan x="0" dy="20">0, 27, 0, 0, 0, 0, 0]</tspan><tspan x="0" dy="20">class = Renal Cancer</tspan></text></g>
<g id="node-68" transform="translate(3451,1272.6)"><rect class="b rena" x="-215" y="-65.5" width="430" height="131" rx="14"/><text class="t" y="-43"><tspan x="0">node #68</tspan><tspan x="0" dy="20">gini = 0.0</tspan><tspan x="0" dy="20">samples = 27</tspan><tspan x="0" dy="20">value = [0, 0, 0, 0, 0, 0, 0, 0, 0, 0, 0, 0, 0, 0</tspan><tspan x="0" dy="20">0, 27, 0, 0, 0, 0, 0]</tspan><tspan x="0" dy="20">class = Renal Cancer</tspan></text></g>
<g id="node-69" transform="translate(3906.5,1272.6)"><rect class="b cerv" x="-215" y="-65.5" width="430" height="131" rx="14"/><text class="t" y="-43"><tspan x="0">node #69</tspan><tspan x="0" dy="20">gini = 0.0</tspan><tspan x="0" dy="20">samples = 1</tspan><tspan x="0" dy="20">value = [0, 0, 0, 1, 0, 0, 0, 0, 0, 0, 0, 0, 0, 0</tspan><tspan x="0" dy="20">0, 0, 0, 0, 0, 0, 0]</tspan><tspan x="0" dy="20">class = Cervical Cancer</tspan></text></g>
<g id="node-70" transform="translate(3927,875.4)"><rect class="b i" x="-220" y="-75.5" width="440" height="151" rx="14"/><text class="t" y="-53"><tspan x="0">node #70</tspan><tspan x="0" dy="20">FLJ22386 ≤ 0.267</tspan><tspan x="0" dy="20">gini = 0.156</tspan><tspan x="0" dy="20">samples = 36</tspan><tspan x="0" dy="20">value = [0, 0, 0, 0, 33, 0, 0, 0, 2, 0, 0, 0, 0, 0</tspan><tspan x="0" dy="20">0, 0, 0, 1, 0, 0, 0]</tspan><tspan x="0" dy="20">class = Colorectal Cancer</tspan></text></g>
<g id="node-71" transform="translate(3921,1074)"><rect class="b colo" x="-220" y="-65.5" width="440" height="131" rx="14"/><text class="t" y="-43"><tspan x="0">node #71</tspan><tspan x="0" dy="20">gini = 0.0</tspan><tspan x="0" dy="20">samples = 33</tspan><tspan x="0" dy="20">value = [0, 0, 0, 0, 33, 0, 0, 0, 0, 0, 0, 0, 0, 0</tspan><tspan x="0" dy="20">0, 0, 0, 0, 0, 0, 0]</tspan><tspan x="0" dy="20">class = Colorectal Cancer</tspan></text></g>
<g id="node-72" transform="translate(4383,1074)"><rect class="b i" x="-215" y="-75.5" width="430" height="151" rx="14"/><text class="t" y="-53"><tspan x="0">node #72</tspan><tspan x="0" dy="20">CGI-149 ≤ 0.423</tspan><tspan x="0" dy="20">gini = 0.444</tspan><tspan x="0" dy="20">samples = 3</tspan><tspan x="0" dy="20">value = [0, 0, 0, 0, 0, 0, 0, 0, 2, 0, 0, 0, 0, 0</tspan><tspan x="0" dy="20">0, 0, 0, 1, 0, 0, 0]</tspan><tspan x="0" dy="20">class = Liver Cancer</tspan></text></g>
<g id="node-73" transform="translate(4373,1272.6)"><rect class="b stom" x="-215" y="-65.5" width="430" height="131" rx="14"/><text class="t" y="-43"><tspan x="0">node #73</tspan><tspan x="0" dy="20">gini = 0.0</tspan><tspan x="0" dy="20">samples = 1</tspan><tspan x="0" dy="20">value = [0, 0, 0, 0, 0, 0, 0, 0, 0, 0, 0, 0, 0, 0</tspan><tspan x="0" dy="20">0, 0, 0, 1, 0, 0, 0]</tspan><tspan x="0" dy="20">class = Stomach Cancer</tspan></text></g>
<g id="node-74" transform="translate(4829,1272.6)"><rect class="b live" x="-215" y="-65.5" width="430" height="131" rx="14"/><text class="t" y="-43"><tspan x="0">node #74</tspan><tspan x="0" dy="20">gini = 0.0</tspan><tspan x="0" dy="20">samples = 2</tspan><tspan x="0" dy="20">value = [0, 0, 0, 0, 0, 0, 0, 0, 2, 0, 0, 0, 0, 0</tspan><tspan x="0" dy="20">0, 0, 0, 0, 0, 0, 0]</tspan><tspan x="0" dy="20">class = Liver Cancer</tspan></text></g>
<g id="node-75" transform="translate(3935,676.8)"><rect class="b carc" x="-220.5" y="-65.5" width="441" height="131" rx="14"/><text class="t" y="-43"><tspan x="0">node #75</tspan><tspan x="0" dy="20">gini = 0.0</tspan><tspan x="0" dy="20">samples = 59</tspan><tspan x="0" dy="20">value = [0, 0, 59, 0, 0, 0, 0, 0, 0, 0, 0, 0, 0, 0</tspan><tspan x="0" dy="20">0, 0, 0, 0, 0, 0, 0]</tspan><tspan x="0" dy="20">class = Carcinoid</tspan></text></g>
<g id="node-76" transform="translate(4396,478.2)"><rect class="b i" x="-215" y="-75.5" width="430" height="151" rx="14"/><text class="t" y="-53"><tspan x="0">node #76</tspan><tspan x="0" dy="20">Zip67 ≤ 0.785</tspan><tspan x="0" dy="20">gini = 0.046</tspan><tspan x="0" dy="20">samples = 85</tspan><tspan x="0" dy="20">value = [0, 0, 0, 2, 0, 0, 0, 0, 0, 0, 0, 0, 0, 0</tspan><tspan x="0" dy="20">0, 0, 83, 0, 0, 0, 0]</tspan><tspan x="0" dy="20">class = Skin Cancer</tspan></text></g>
<g id="node-77" transform="translate(4396,676.8)"><rect class="b skin" x="-215" y="-65.5" width="430" height="131" rx="14"/><text class="t" y="-43"><tspan x="0">node #77</tspan><tspan x="0" dy="20">gini = 0.0</tspan><tspan x="0" dy="20">samples = 83</tspan><tspan x="0" dy="20">value = [0, 0, 0, 0, 0, 0, 0, 0, 0, 0, 0, 0, 0, 0</tspan><tspan x="0" dy="20">0, 0, 83, 0, 0, 0, 0]</tspan><tspan x="0" dy="20">class = Skin Cancer</tspan></text></g>
<g id="node-78" transform="translate(4851,676.8)"><rect class="b cerv" x="-215" y="-65.5" width="430" height="131" rx="14"/><text class="t" y="-43"><tspan x="0">node #78</tspan><tspan x="0" dy="20">gini = 0.0</tspan><tspan x="0" dy="20">samples = 2</tspan><tspan x="0" dy="20">value = [0, 0, 0, 2, 0, 0, 0, 0, 0, 0, 0, 0, 0, 0</tspan><tspan x="0" dy="20">0, 0, 0, 0, 0, 0, 0]</tspan><tspan x="0" dy="20">class = Cervical Cancer</tspan></text></g>
</g>
</svg>
